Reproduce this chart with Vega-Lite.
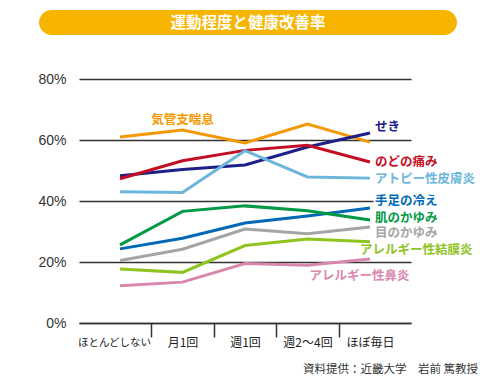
{
  "$schema": "https://vega.github.io/schema/vega-lite/v6.json",
  "background": "white",
  "padding": {"left": 37, "top": 10, "right": 5, "bottom": 5},
  "config": {"view": {"stroke": null}, "font": "Noto Sans CJK JP"},
  "title": {"text": "資料提供：近畿大学　岩前 篤教授", "orient": "bottom", "anchor": "end", "fontSize": 11.5, "fontWeight": "normal", "color": "#333333", "offset": 16, "font": "Noto Sans CJK JP", "dx": 3},
  "spacing": 37,
  "datasets": {
    "lines": [
      {"series": "気管支喘息", "cat": "ほとんどしない", "pct": 61.0},
      {"series": "気管支喘息", "cat": "月1回", "pct": 63.3},
      {"series": "気管支喘息", "cat": "週1回", "pct": 59.0},
      {"series": "気管支喘息", "cat": "週2～4回", "pct": 65.2},
      {"series": "気管支喘息", "cat": "ほぼ毎日", "pct": 59.3},
      {"series": "せき", "cat": "ほとんどしない", "pct": 48.3},
      {"series": "せき", "cat": "月1回", "pct": 50.3},
      {"series": "せき", "cat": "週1回", "pct": 51.8},
      {"series": "せき", "cat": "週2～4回", "pct": 57.7},
      {"series": "せき", "cat": "ほぼ毎日", "pct": 62.3},
      {"series": "のどの痛み", "cat": "ほとんどしない", "pct": 47.3},
      {"series": "のどの痛み", "cat": "月1回", "pct": 53.2},
      {"series": "のどの痛み", "cat": "週1回", "pct": 56.6},
      {"series": "のどの痛み", "cat": "週2～4回", "pct": 58.3},
      {"series": "のどの痛み", "cat": "ほぼ毎日", "pct": 52.8},
      {"series": "アトピー性皮膚炎", "cat": "ほとんどしない", "pct": 43.0},
      {"series": "アトピー性皮膚炎", "cat": "月1回", "pct": 42.8},
      {"series": "アトピー性皮膚炎", "cat": "週1回", "pct": 56.5},
      {"series": "アトピー性皮膚炎", "cat": "週2～4回", "pct": 47.9},
      {"series": "アトピー性皮膚炎", "cat": "ほぼ毎日", "pct": 47.5},
      {"series": "手足の冷え", "cat": "ほとんどしない", "pct": 24.3},
      {"series": "手足の冷え", "cat": "月1回", "pct": 27.8},
      {"series": "手足の冷え", "cat": "週1回", "pct": 32.8},
      {"series": "手足の冷え", "cat": "週2～4回", "pct": 35.1},
      {"series": "手足の冷え", "cat": "ほぼ毎日", "pct": 37.7},
      {"series": "肌のかゆみ", "cat": "ほとんどしない", "pct": 25.6},
      {"series": "肌のかゆみ", "cat": "月1回", "pct": 36.6},
      {"series": "肌のかゆみ", "cat": "週1回", "pct": 38.4},
      {"series": "肌のかゆみ", "cat": "週2～4回", "pct": 36.8},
      {"series": "肌のかゆみ", "cat": "ほぼ毎日", "pct": 33.8},
      {"series": "目のかゆみ", "cat": "ほとんどしない", "pct": 20.5},
      {"series": "目のかゆみ", "cat": "月1回", "pct": 24.2},
      {"series": "目のかゆみ", "cat": "週1回", "pct": 30.8},
      {"series": "目のかゆみ", "cat": "週2～4回", "pct": 29.3},
      {"series": "目のかゆみ", "cat": "ほぼ毎日", "pct": 31.5},
      {"series": "アレルギー性結膜炎", "cat": "ほとんどしない", "pct": 17.7},
      {"series": "アレルギー性結膜炎", "cat": "月1回", "pct": 16.6},
      {"series": "アレルギー性結膜炎", "cat": "週1回", "pct": 25.4},
      {"series": "アレルギー性結膜炎", "cat": "週2～4回", "pct": 27.5},
      {"series": "アレルギー性結膜炎", "cat": "ほぼ毎日", "pct": 26.6},
      {"series": "アレルギー性鼻炎", "cat": "ほとんどしない", "pct": 12.2},
      {"series": "アレルギー性鼻炎", "cat": "月1回", "pct": 13.4},
      {"series": "アレルギー性鼻炎", "cat": "週1回", "pct": 19.5},
      {"series": "アレルギー性鼻炎", "cat": "週2～4回", "pct": 18.9},
      {"series": "アレルギー性鼻炎", "cat": "ほぼ毎日", "pct": 21.0}
    ],
    "labels": [
      {"series": "気管支喘息", "cat": "月1回", "pct": 66.6, "pos": "center"},
      {"series": "せき", "cat": "ほぼ毎日", "pct": 64.3, "pos": "right"},
      {"series": "のどの痛み", "cat": "ほぼ毎日", "pct": 52.8, "pos": "right"},
      {"series": "アトピー性皮膚炎", "cat": "ほぼ毎日", "pct": 47.2, "pos": "right"},
      {"series": "手足の冷え", "cat": "ほぼ毎日", "pct": 40.0, "pos": "right"},
      {"series": "肌のかゆみ", "cat": "ほぼ毎日", "pct": 34.4, "pos": "right"},
      {"series": "目のかゆみ", "cat": "ほぼ毎日", "pct": 29.5, "pos": "right"},
      {"series": "アレルギー性結膜炎", "cat": "ほぼ毎日", "pct": 23.9, "pos": "below"},
      {"series": "アレルギー性鼻炎", "cat": "週2～4回", "pct": 15.4, "pos": "under"}
    ]
  },
  "vconcat": [
    {
      "width": 418,
      "height": 25,
      "data": {"values": [{"t": "運動程度と健康改善率"}]},
      "view": {"fill": "#F8B500", "cornerRadius": 12.5, "stroke": null},
      "mark": {"type": "text", "color": "white", "fontSize": 15.5, "fontWeight": "bold", "font": "Noto Sans CJK JP", "baseline": "middle", "align": "center"},
      "encoding": {"text": {"field": "t", "type": "nominal"}}
    },
    {
      "spacing": 11,
      "hconcat": [
        {
          "width": 0,
          "height": 244,
          "data": {"name": "lines"},
          "mark": {"type": "point", "opacity": 0, "size": 1},
          "encoding": {
            "y": {
              "field": "pct", "type": "quantitative",
              "scale": {"domain": [0, 80], "nice": false, "zero": true},
              "axis": {
                "orient": "right", "title": null, "values": [0, 20, 40, 60, 80], "grid": false,
                "domain": false, "ticks": false, "tickSize": 0, "labelFontSize": 14, "labelColor": "#333333",
                "labelPadding": 7, "labelAlign": "right", "minExtent": 0,
                "labelExpr": "datum.value + '%'", "labelFont": "Liberation Sans"
              }
            }
          }
        },
        {
          "width": 332,
          "height": 244,
          "encoding": {
            "x": {
              "field": "cat", "type": "ordinal",
              "sort": ["ほとんどしない", "月1回", "週1回", "週2～4回", "ほぼ毎日"],
              "scale": {"type": "band", "paddingInner": 0, "paddingOuter": 0.156},
              "axis": {
                "title": null, "labelAngle": 0, "tickBand": "extent", "tickSize": 14, "tickWidth": 1.5,
                "tickColor": "#333333", "domainColor": "#333333", "domainWidth": 1.5,
                "labelColor": "#222222", "labelPadding": 0, "labelFont": "Noto Sans CJK JP",
                "labelFontSize": {"condition": {"test": "datum.value === 'ほとんどしない'", "value": 10.5}, "value": 12},
                "labelOffset": {"condition": {"test": "datum.value === 'ほとんどしない'", "value": -6}, "value": 0},
                "grid": false,
                "tickOpacity": {"condition": {"test": "datum.value === 'ほぼ毎日' || datum.index < 0 || datum.value == null", "value": 0}, "value": 1}
              }
            },
            "y": {
              "field": "pct", "type": "quantitative",
              "scale": {"domain": [0, 80], "nice": false, "zero": true},
              "axis": {
                "title": null, "values": [0, 20, 40, 60, 80], "grid": true, "gridColor": "#333333", "gridWidth": 1.3,
                "domain": false, "ticks": false, "labels": false, "minExtent": 0
              }
            },
            "color": {
              "field": "series", "type": "nominal", "legend": null,
              "scale": {
                "domain": ["気管支喘息", "せき", "のどの痛み", "アトピー性皮膚炎", "手足の冷え", "肌のかゆみ", "目のかゆみ", "アレルギー性結膜炎", "アレルギー性鼻炎"],
                "range": ["#F39800", "#1D2088", "#C30D23", "#6CB6DC", "#0068B7", "#009944", "#A5A5A5", "#8FC31F", "#DA87AD"]
              }
            }
          },
          "layer": [
            {
              "data": {"name": "lines"},
              "mark": {"type": "line", "strokeWidth": 3, "strokeJoin": "miter"}
            },
            {
              "data": {"name": "labels"},
              "transform": [{"filter": "datum.pos === 'right'"}],
              "mark": {"type": "text", "align": "left", "baseline": "middle", "dx": 5, "fontSize": 12.5, "fontWeight": "bold", "font": "Noto Sans CJK JP", "color": "white", "stroke": "white", "strokeWidth": 4},
              "encoding": {"text": {"field": "series", "type": "nominal"}, "color": {"value": "white"}}
            },
            {
              "data": {"name": "labels"},
              "transform": [{"filter": "datum.pos === 'right'"}],
              "mark": {"type": "text", "align": "left", "baseline": "middle", "dx": 5, "fontSize": 12.5, "fontWeight": "bold", "font": "Noto Sans CJK JP"},
              "encoding": {"text": {"field": "series", "type": "nominal"}}
            },
            {
              "data": {"name": "labels"},
              "transform": [{"filter": "datum.pos === 'below'"}],
              "mark": {"type": "text", "align": "left", "baseline": "middle", "dx": -10, "fontSize": 12.5, "fontWeight": "bold", "font": "Noto Sans CJK JP"},
              "encoding": {"text": {"field": "series", "type": "nominal"}}
            },
            {
              "data": {"name": "labels"},
              "transform": [{"filter": "datum.pos === 'under'"}],
              "mark": {"type": "text", "align": "left", "baseline": "middle", "dx": 2, "fontSize": 12.5, "fontWeight": "bold", "font": "Noto Sans CJK JP"},
              "encoding": {"text": {"field": "series", "type": "nominal"}}
            },
            {
              "data": {"name": "labels"},
              "transform": [{"filter": "datum.pos === 'center'"}],
              "mark": {"type": "text", "align": "center", "baseline": "middle", "dx": 0, "fontSize": 12.5, "fontWeight": "bold", "font": "Noto Sans CJK JP"},
              "encoding": {"text": {"field": "series", "type": "nominal"}}
            }
          ]
        }
      ]
    }
  ]
}
